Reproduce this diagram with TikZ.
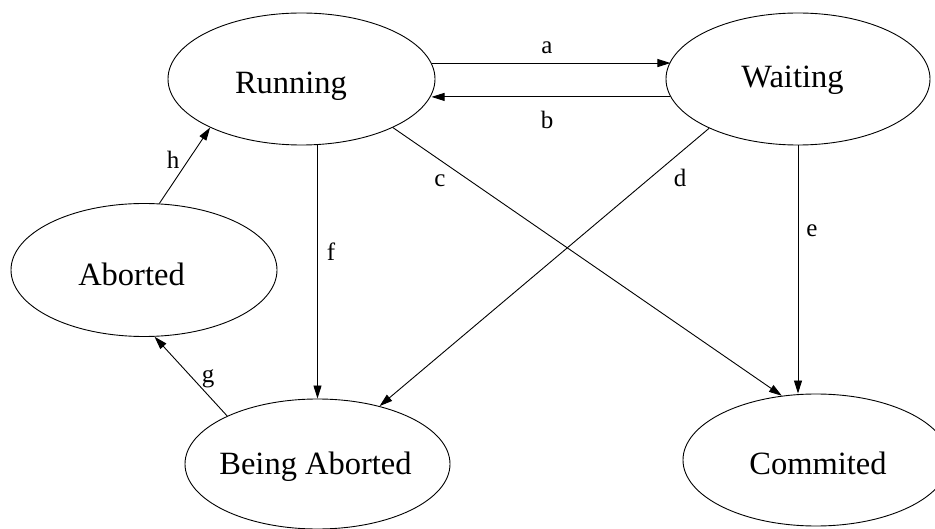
\documentclass[tikz,border=0pt]{standalone}
\usepackage{fontspec}
\setmainfont{Liberation Serif}
\usetikzlibrary{shapes.geometric,arrows.meta}

\tikzset{
  state/.style={draw, ellipse, line width=0.9pt, inner sep=0pt,
                minimum width=266pt, minimum height=132pt},
  statetext/.style={anchor=base, font=\fontsize{32.5}{36}\selectfont, inner sep=0pt},
  edgelbl/.style={anchor=base, font=\fontsize{25}{28}\selectfont, inner sep=0pt},
  trans/.style={line width=0.9pt, -{Triangle[length=13pt,width=8pt]}},
}

\begin{document}
\begin{tikzpicture}[x=1pt, y=-1pt]
  \useasboundingbox (0,0) rectangle (935,529);
  \clip (0,0) rectangle (935,529);

  % states
  \node[state, minimum width=267pt] (run) at (301.5,79) {};
  \node[state, minimum width=264pt] (wait) at (798,79) {};
  \node[state, minimum height=133pt] (abo) at (144,270) {};
  \node[state, minimum width=265pt, minimum height=130pt] (ba) at (317.5,464) {};
  \node[state] (com) at (816,460) {};

  % state names
  \node[statetext] (runt) at (291,94) {Running};
  \node[statetext] (waitt) at (792.5,88) {Waiting};
  \node[statetext] (abot) at (131.5,286) {Aborted};
  \node[statetext] (bat) at (315.5,475) {Being Aborted};
  \node[statetext] (comt) at (818,475) {Commited};

  % transitions (a and b kept horizontal)
  \draw[trans] (run.7.5) -- (run.7.5 -| wait.172.4);
  \draw[trans] (wait.-172.9) -- (wait.-172.9 -| run.-7);
  \draw[trans] (run.-28.2) -- (com.118.3);
  \draw[trans] (wait.-151.7) -- (ba.43.5);
  \draw[trans] (wait.south) -- (wait.south |- com.north);
  \draw[trans] (ba.north |- run.south) -- (ba.north);
  \draw[trans] (ba.152.6) -- (abo.-81.5);
  \draw[trans] (abo.77) -- (run.-152);

  % transition labels
  \node[edgelbl] (la) at (547,54) {a};
  \node[edgelbl] (lb) at (547,129) {b};
  \node[edgelbl] (lc) at (440,187) {c};
  \node[edgelbl] (ld) at (680,187) {d};
  \node[edgelbl] (le) at (812,237) {e};
  \node[edgelbl] (lf) at (331,261) {f};
  \node[edgelbl] (lg) at (208,383) {g};
  \node[edgelbl] (lh) at (173,169) {h};
\end{tikzpicture}
\end{document}
